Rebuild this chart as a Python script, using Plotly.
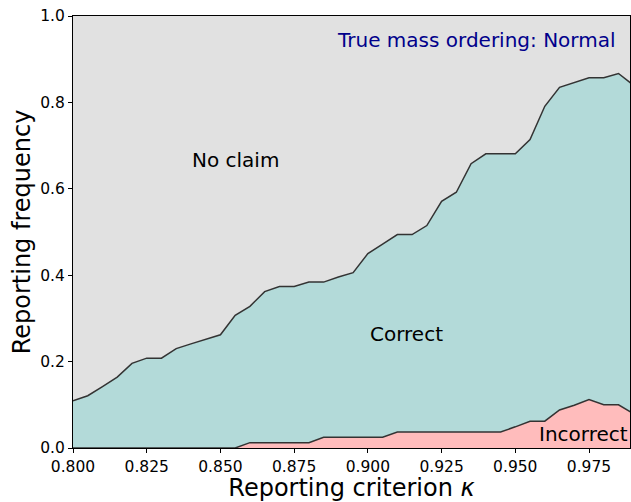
import numpy as np
import plotly.graph_objects as go

kappa = [0.800, 0.805, 0.810, 0.815, 0.820, 0.825, 0.830, 0.835, 0.840, 0.845,
         0.850, 0.855, 0.860, 0.865, 0.870, 0.875, 0.880, 0.885, 0.890, 0.895,
         0.900, 0.905, 0.910, 0.915, 0.920, 0.925, 0.930, 0.935, 0.940, 0.945,
         0.950, 0.955, 0.960, 0.965, 0.970, 0.975, 0.980, 0.985, 0.990]

incorrect = [0.0, 0.0, 0.0, 0.0, 0.0, 0.0, 0.0, 0.0, 0.0, 0.0,
             0.0, 0.0, 0.0124, 0.0124, 0.0124, 0.0124, 0.0124, 0.0247, 0.0247, 0.0247,
             0.0247, 0.0247, 0.037, 0.037, 0.037, 0.037, 0.037, 0.037, 0.037, 0.037,
             0.049, 0.062, 0.062, 0.088, 0.099, 0.112, 0.100, 0.100, 0.080]

reported = [0.109, 0.121, 0.142, 0.164, 0.196, 0.208, 0.208, 0.230, 0.241, 0.252,
            0.262, 0.307, 0.328, 0.362, 0.374, 0.374, 0.384, 0.384, 0.396, 0.406,
            0.450, 0.472, 0.494, 0.494, 0.515, 0.571, 0.592, 0.658, 0.681, 0.681,
            0.681, 0.714, 0.791, 0.835, 0.846, 0.857, 0.857, 0.867, 0.840]

correct = list(np.array(reported) - np.array(incorrect))
no_claim = list(1 - np.array(reported))

LINE = "#333333"
fig = go.Figure()
fig.add_trace(go.Scatter(x=kappa, y=incorrect, stackgroup="s", mode="lines",
                         line=dict(color=LINE, width=1.5), fillcolor="#ffbcbc",
                         name="Incorrect", hoverinfo="x+y"))
fig.add_trace(go.Scatter(x=kappa, y=correct, stackgroup="s", mode="lines",
                         line=dict(color=LINE, width=1.5), fillcolor="#b3dad9",
                         name="Correct", hoverinfo="x+y"))
fig.add_trace(go.Scatter(x=kappa, y=no_claim, stackgroup="s", mode="lines",
                         line=dict(color=LINE, width=0), fillcolor="#e1e1e1",
                         name="No claim", hoverinfo="x+y"))

font = "DejaVu Sans"
fig.add_annotation(x=0.8552, y=0.667, text="No claim", showarrow=False,
                   font=dict(family=font, size=20, color="black"))
fig.add_annotation(x=0.913, y=0.265, text="Correct", showarrow=False,
                   font=dict(family=font, size=20, color="black"))
fig.add_annotation(xref="paper", x=1.0, y=0.032, xanchor="right", text="Incorrect",
                   showarrow=False, font=dict(family=font, size=20, color="black"))
fig.add_annotation(xref="paper", yref="paper", x=0.978, y=0.978, xanchor="right",
                   yanchor="top", text="True mass ordering: Normal", showarrow=False,
                   font=dict(family=font, size=20, color="darkblue"))

fig.update_layout(
    width=631, height=502,
    margin=dict(l=73, r=1, t=16, b=54),
    paper_bgcolor="white", plot_bgcolor="white",
    showlegend=False,
    font=dict(family=font, size=15.5, color="black"),
    xaxis=dict(range=[0.8, 0.9889], dtick=0.025, tick0=0.8, tickformat=".3f",
               ticks="outside", ticklen=4, tickcolor="black", showgrid=False,
               zeroline=False, showline=True, linecolor="black", linewidth=1,
               mirror=True,
               title=dict(text="Reporting criterion <i>κ</i>", font=dict(size=24),
                          standoff=4)),
    yaxis=dict(range=[0, 1], dtick=0.2, tickformat=".1f",
               ticks="outside", ticklen=4, tickcolor="black", showgrid=False,
               zeroline=False, showline=True, linecolor="black", linewidth=1,
               mirror=True,
               title=dict(text="Reporting frequency", font=dict(size=24),
                          standoff=2)),
)

fig.write_html("out.html", config={"displayModeBar": False},
               post_script="document.body.style.margin='0';")
